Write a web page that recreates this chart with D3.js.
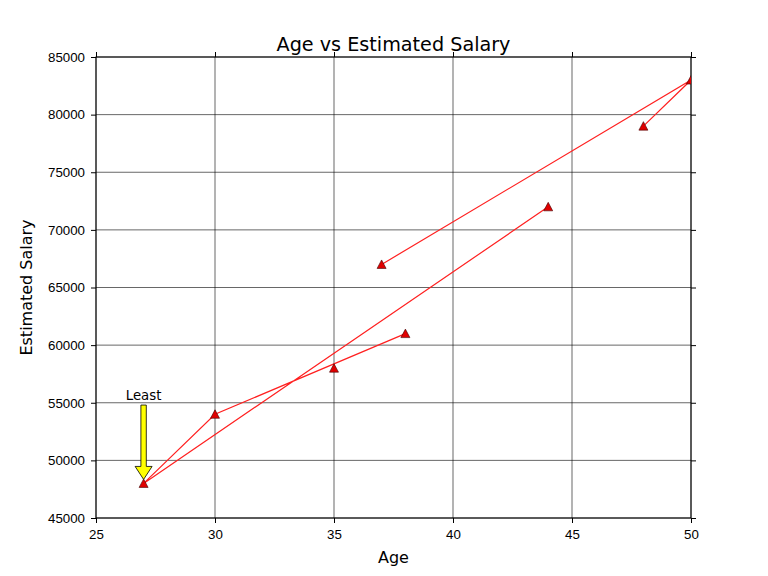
<!DOCTYPE html>
<html>
<head>
<meta charset="utf-8">
<script src="https://cdn.jsdelivr.net/npm/d3@7"></script>
<style>
  body { margin: 0; background: #fff; }
  svg { font-family: "DejaVu Sans", sans-serif; }
</style>
</head>
<body>
<div id="chart"></div>
<script>
// data (null = missing value, the line breaks there)
var ages = [44, 27, 30, 38, 40, 35, null, 48, 50, 37];
var salaries = [72000, 48000, 54000, 61000, null, 58000, 52000, 79000, 83000, 67000];
var xTicks = [25, 30, 35, 40, 45, 50];
var yTicks = [45000, 50000, 55000, 60000, 65000, 70000, 75000, 80000, 85000];
var leastLabel = "Least";

var width = 768, height = 576;
var margin = { top: 57, right: 77, bottom: 58, left: 96 };
var w = width - margin.left - margin.right;
var h = height - margin.top - margin.bottom;

var data = ages.map(function(a, i) { return { age: a, salary: salaries[i] }; });
var valid = data.filter(d => d.age != null && d.salary != null);

var x = d3.scaleLinear().domain([25, 50]).range([0, w]);
var y = d3.scaleLinear().domain([45000, 85000]).range([h, 0]);

var svg = d3.select("#chart").append("svg")
    .attr("width", width)
    .attr("height", height);

var g = svg.append("g")
    .attr("transform", "translate(" + margin.left + "," + margin.top + ")");

g.append("clipPath").attr("id", "clip")
  .append("rect").attr("width", w).attr("height", h);

// grid
g.append("g").selectAll("line").data(xTicks).enter().append("line")
    .attr("x1", d => x(d)).attr("x2", d => x(d))
    .attr("y1", 0).attr("y2", h)
    .attr("stroke", "#000").attr("stroke-width", 0.6);
g.append("g").selectAll("line").data(yTicks).enter().append("line")
    .attr("y1", d => y(d)).attr("y2", d => y(d))
    .attr("x1", 0).attr("x2", w)
    .attr("stroke", "#000").attr("stroke-width", 0.6);

// axes
function styleAxis(sel) {
  sel.select(".domain").remove();
  sel.selectAll("line").attr("stroke", "#000");
  sel.selectAll("text").style("font-size", "13.3px").attr("fill", "#000");
}
g.append("g").attr("transform", "translate(0," + h + ")")
  .call(d3.axisBottom(x).tickValues(xTicks).tickSize(5).tickPadding(7))
  .call(styleAxis);
g.append("g")
  .call(d3.axisTop(x).tickValues(xTicks).tickSize(5).tickFormat(""))
  .call(styleAxis);
g.append("g")
  .call(d3.axisLeft(y).tickValues(yTicks).tickSize(5).tickPadding(6).tickFormat(d3.format("d")))
  .call(styleAxis);
g.append("g").attr("transform", "translate(" + w + ",0)")
  .call(d3.axisRight(y).tickValues(yTicks).tickSize(5).tickFormat(""))
  .call(styleAxis);

// frame
g.append("rect").attr("width", w).attr("height", h)
    .attr("fill", "none").attr("stroke", "#000").attr("stroke-width", 1);

// line
var line = d3.line()
    .defined(d => d.age != null && d.salary != null)
    .x(d => x(d.age))
    .y(d => y(d.salary));

var plot = g.append("g").attr("clip-path", "url(#clip)");
plot.append("path").datum(data)
    .attr("d", line)
    .attr("fill", "none")
    .attr("stroke", "#ff2020")
    .attr("stroke-width", 1.2);

var tri = "M0,-4.5L4.5,4L-4.5,4Z";
plot.selectAll(".mk").data(valid).enter().append("path")
    .attr("class", "mk")
    .attr("d", tri)
    .attr("transform", d => "translate(" + x(d.age) + "," + y(d.salary) + ")")
    .attr("fill", "#e00000")
    .attr("stroke", "#400000")
    .attr("stroke-width", 0.6);

// annotation
var least = valid.reduce((a, b) => b.salary < a.salary ? b : a);
var ax = x(least.age);
var yTop = y(54800), yTip = y(least.salary) - 4, headLen = 13;
var arrow = d3.path();
arrow.moveTo(ax - 2.7, yTop);
arrow.lineTo(ax + 2.7, yTop);
arrow.lineTo(ax + 2.7, yTip - headLen);
arrow.lineTo(ax + 8.5, yTip - headLen);
arrow.lineTo(ax, yTip);
arrow.lineTo(ax - 8.5, yTip - headLen);
arrow.lineTo(ax - 2.7, yTip - headLen);
arrow.closePath();
g.append("path").attr("d", arrow.toString())
    .attr("fill", "#ffff00").attr("stroke", "#000").attr("stroke-width", 0.8);
g.append("text")
    .attr("x", ax).attr("y", y(55500) + 3)
    .attr("text-anchor", "middle")
    .style("font-size", "13.3px")
    .text(leastLabel);

// titles
svg.append("text")
    .attr("x", margin.left + w / 2).attr("y", 51)
    .attr("text-anchor", "middle")
    .style("font-size", "19.2px")
    .text("Age vs Estimated Salary");
svg.append("text")
    .attr("x", margin.left + w / 2).attr("y", 563)
    .attr("text-anchor", "middle")
    .style("font-size", "16px")
    .text("Age");
svg.append("text")
    .attr("transform", "translate(32," + (margin.top + h / 2) + ") rotate(-90)")
    .attr("text-anchor", "middle")
    .style("font-size", "16px")
    .text("Estimated Salary");
</script>
</body>
</html>
